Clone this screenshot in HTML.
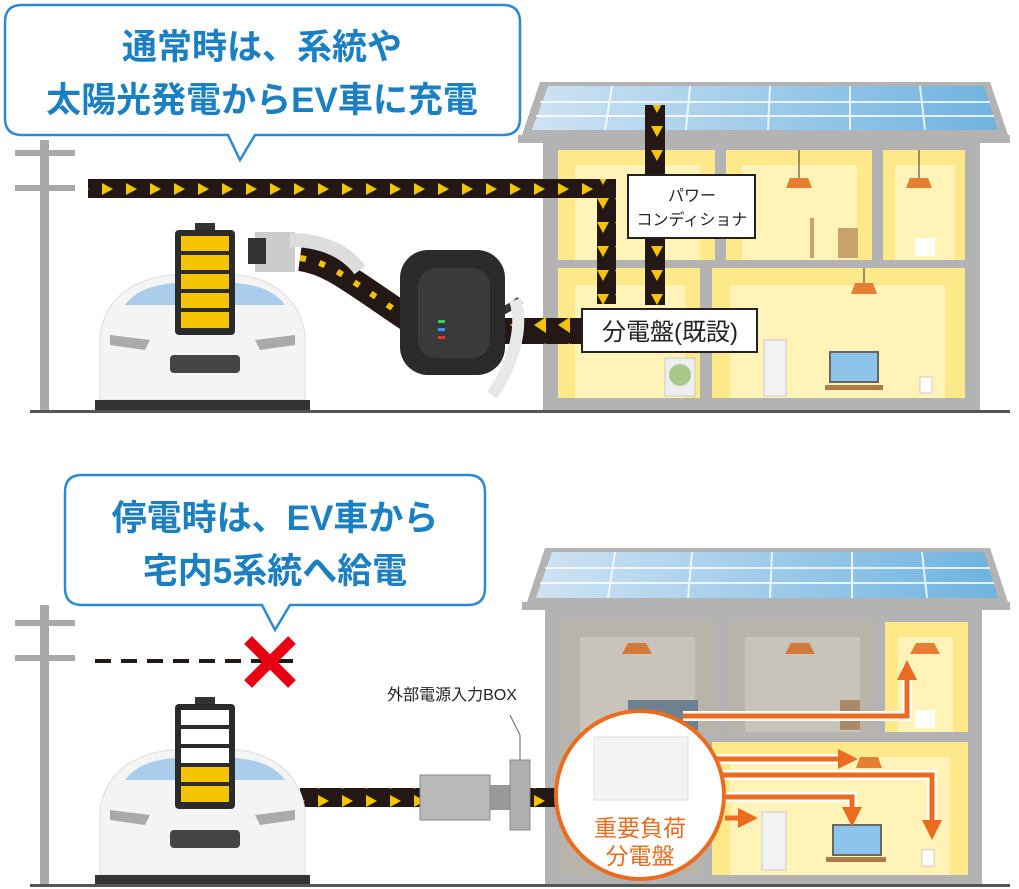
<!DOCTYPE html>
<html><head><meta charset="utf-8"><style>
html,body{margin:0;padding:0;background:#fff;}
svg{display:block;font-family:"Liberation Sans","Noto Sans CJK JP",sans-serif;}
</style></head><body>
<svg width="1019" height="889" viewBox="0 0 1019 889" xmlns="http://www.w3.org/2000/svg">
<defs>
<pattern id="ar" width="24" height="18" patternUnits="userSpaceOnUse"><rect width="24" height="18" fill="#231815"/><polygon points="6,3 17,9 6,15" fill="#f5c400"/></pattern>
<pattern id="ad" width="18" height="24" patternUnits="userSpaceOnUse"><rect width="18" height="24" fill="#231815"/><polygon points="3,6 15,6 9,17" fill="#f5c400"/></pattern>
<pattern id="al" width="24" height="26" patternUnits="userSpaceOnUse"><rect width="24" height="26" fill="#231815"/><polygon points="18,5 6,13 18,21" fill="#f5c400"/></pattern>
<linearGradient id="sol" x1="0" x2="1"><stop offset="0" stop-color="#cfe3f3"/><stop offset="1" stop-color="#6fb3e0"/></linearGradient>
<marker id="oa" markerWidth="4" markerHeight="4" refX="2" refY="2" orient="auto"><polygon points="0,0 4,2 0,4" fill="#ec6c1f"/></marker>
</defs>

<!-- ===== TOP ===== -->
<!-- pole -->
<rect x="40" y="140" width="9" height="272" fill="#a9a9a9"/>
<rect x="15" y="150" width="60" height="6" fill="#a9a9a9"/>
<rect x="15" y="185" width="60" height="6" fill="#a9a9a9"/>
<!-- house -->
<polygon points="540,82 990,82 1008,135 522,135" fill="#b3b3b3"/>
<polygon points="548,86 984,86 998,130 532,130" fill="url(#sol)"/>
<g stroke="#fff" stroke-width="2" opacity="0.8"><line x1="540" y1="102" x2="990" y2="102"/><line x1="536" y1="116" x2="994" y2="116"/><line x1="612" y1="86" x2="605" y2="130"/><line x1="690" y1="86" x2="686" y2="130"/><line x1="770" y1="86" x2="768" y2="130"/><line x1="850" y1="86" x2="850" y2="130"/><line x1="920" y1="86" x2="925" y2="130"/></g>
<rect x="518" y="135" width="492" height="8" fill="#b3b3b3"/>
<rect x="543" y="143" width="437" height="269" fill="#b3b3b3"/>
<rect x="558" y="150" width="157" height="110" fill="#fde989"/>
<rect x="726" y="150" width="146" height="110" fill="#fde989"/>
<rect x="883" y="150" width="82" height="110" fill="#fde989"/>
<rect x="558" y="268" width="142" height="130" fill="#fde989"/>
<rect x="712" y="268" width="253" height="130" fill="#fde989"/>
<g fill="#fff3b8"><rect x="575" y="165" width="125" height="95"/><rect x="742" y="165" width="115" height="95"/><rect x="895" y="165" width="60" height="95"/><rect x="575" y="285" width="110" height="113"/><rect x="730" y="285" width="215" height="113"/></g>
<g fill="#e67e33"><polygon points="790,178 808,178 812,188 786,188"/><polygon points="910,178 928,178 932,188 906,188"/><polygon points="855,283 873,283 877,294 851,294"/></g>
<g stroke="#333" stroke-width="1"><line x1="799" y1="150" x2="799" y2="178"/><line x1="919" y1="150" x2="919" y2="178"/><line x1="864" y1="268" x2="864" y2="283"/></g>
<rect x="838" y="228" width="20" height="30" fill="#c9a36c"/><rect x="810" y="218" width="4" height="40" fill="#c9a36c"/>
<rect x="915" y="238" width="20" height="18" fill="#fff"/>
<rect x="665" y="358" width="30" height="38" fill="#eee" stroke="#ccc"/><circle cx="680" cy="375" r="11" fill="#a9c98a"/>
<rect x="764" y="340" width="22" height="56" fill="#f2f2f2" stroke="#ccc"/>
<rect x="830" y="352" width="48" height="30" fill="#8cc4ea" stroke="#666" stroke-width="2"/>
<rect x="825" y="385" width="58" height="5" fill="#b07a45"/>
<rect x="920" y="377" width="12" height="16" fill="#fff" stroke="#ccc"/>
<!-- arrows -->
<rect x="88" y="179" width="527" height="19" fill="url(#ar)"/>
<rect x="597" y="179" width="19" height="125" fill="url(#ad)" />
<rect x="645" y="105" width="20" height="200" fill="url(#ad)"/>
<rect x="505" y="318" width="80" height="26" fill="url(#al)"/>
<!-- boxes -->
<rect x="628" y="175" width="127" height="63" fill="#fff" stroke="#222" stroke-width="2"/>
<text x="692" y="201" font-size="16" text-anchor="middle" fill="#222">パワー</text>
<text x="692" y="225" font-size="16" text-anchor="middle" fill="#222">コンディショナ</text>
<rect x="582" y="309" width="175" height="43" fill="#fff" stroke="#222" stroke-width="2"/>
<text x="670" y="340" font-size="24" text-anchor="middle" fill="#222">分電盤(既設)</text>
<!-- cable -->
<path d="M300,258 C330,262 350,280 410,320" stroke="#231815" stroke-width="26" fill="none"/>
<path d="M300,258 C330,262 350,280 410,320" stroke="#f5c400" stroke-width="6" stroke-dasharray="6 14" fill="none"/>
<path d="M255,232 h40 v40 h-40z" fill="#ccc"/><rect x="248" y="238" width="18" height="26" fill="#333"/>
<path d="M290,240 C320,240 345,250 360,270" stroke="#ddd" stroke-width="14" fill="none"/>
<!-- charger -->
<path d="M430,370 C420,330 500,320 520,300" stroke="#333" stroke-width="8" fill="none"/>
<rect x="400" y="250" width="105" height="125" rx="28" fill="#2b2b2b"/>
<rect x="418" y="268" width="72" height="90" rx="18" fill="#3a3a3a"/>
<rect x="438" y="320" width="7" height="3" fill="#3c6"/><rect x="438" y="328" width="7" height="3" fill="#39f"/><rect x="438" y="336" width="7" height="3" fill="#e33"/>
<path d="M515,300 C525,330 510,370 492,395" stroke="#e8e8e8" stroke-width="12" fill="none"/>
<!-- car -->
<path d="M100,335 C105,300 130,280 170,275 L240,275 C275,280 300,300 305,335 L305,400 L100,400 Z" fill="#f4f4f4" stroke="#ddd"/>
<path d="M125,305 C140,285 165,282 205,282 C245,282 270,285 285,305 Z" fill="#a9cdea"/>
<rect x="95" y="400" width="215" height="10" fill="#333"/>
<path d="M110,335 L150,340 L145,350 L110,345Z M295,335 L255,340 L260,350 L295,345Z" fill="#aaa"/>
<rect x="170" y="355" width="70" height="18" rx="4" fill="#444"/>
<!-- battery -->
<rect x="195" y="223" width="20" height="8" fill="#333"/>
<rect x="175" y="230" width="60" height="105" rx="4" fill="#2b2b2b"/>
<g fill="#f5c400"><rect x="181" y="236" width="48" height="15"/><rect x="181" y="255" width="48" height="15"/><rect x="181" y="274" width="48" height="15"/><rect x="181" y="293" width="48" height="15"/><rect x="181" y="312" width="48" height="16"/></g>
<rect x="30" y="410" width="980" height="3" fill="#555"/>
<!-- bubble top -->
<path d="M22,5 H503 Q520,5 520,22 V118 Q520,135 503,135 H255 L240,160 L228,135 H22 Q5,135 5,118 V22 Q5,5 22,5Z" fill="#fff" stroke="#2b8ad0" stroke-width="2.5"/>
<text x="262" y="59" font-size="35" font-weight="bold" text-anchor="middle" fill="#1b7fc4">通常時は、系統や</text>
<text x="262" y="112" font-size="35" font-weight="bold" text-anchor="middle" fill="#1b7fc4">太陽光発電からEV車に充電</text>

<!-- ===== BOTTOM ===== -->
<rect x="40" y="605" width="9" height="280" fill="#a9a9a9"/>
<rect x="15" y="620" width="60" height="6" fill="#a9a9a9"/>
<rect x="15" y="655" width="60" height="6" fill="#a9a9a9"/>
<line x1="95" y1="661" x2="300" y2="661" stroke="#231815" stroke-width="4" stroke-dasharray="16 10"/>
<g stroke="#e60012" stroke-width="11"><line x1="248" y1="640" x2="292" y2="684"/><line x1="292" y1="640" x2="248" y2="684"/></g>
<!-- house 2 -->
<polygon points="545,548 990,548 1008,602 527,602" fill="#b3b3b3"/>
<polygon points="552,552 984,552 998,598 536,598" fill="url(#sol)"/>
<g stroke="#fff" stroke-width="2" opacity="0.8"><line x1="545" y1="568" x2="990" y2="568"/><line x1="540" y1="583" x2="994" y2="583"/><line x1="615" y1="552" x2="608" y2="598"/><line x1="692" y1="552" x2="688" y2="598"/><line x1="772" y1="552" x2="770" y2="598"/><line x1="852" y1="552" x2="852" y2="598"/><line x1="922" y1="552" x2="927" y2="598"/></g>
<rect x="522" y="602" width="488" height="8" fill="#b3b3b3"/>
<rect x="545" y="610" width="437" height="275" fill="#b3b3b3"/>
<rect x="560" y="622" width="156" height="110" fill="#b9b4aa"/>
<rect x="727" y="622" width="148" height="110" fill="#b9b4aa"/>
<rect x="885" y="622" width="83" height="110" fill="#fde989"/>
<rect x="560" y="742" width="140" height="133" fill="#b9b4aa"/>
<rect x="712" y="742" width="256" height="133" fill="#fde989"/>
<g fill="#c8c4bb"><rect x="580" y="637" width="115" height="95"/><rect x="745" y="637" width="115" height="95"/></g>
<g fill="#fff3b8"><rect x="898" y="637" width="55" height="95"/><rect x="730" y="757" width="220" height="118"/></g>
<g fill="#d07a3c"><polygon points="628,643 646,643 652,654 622,654"/><polygon points="791,643 809,643 815,654 785,654"/></g>
<g fill="#e67e33"><polygon points="916,643 934,643 940,654 910,654"/><polygon points="860,757 878,757 882,768 856,768"/></g>
<rect x="628" y="700" width="70" height="30" fill="#6d8190"/>
<rect x="840" y="700" width="20" height="30" fill="#a88a66"/>
<rect x="915" y="710" width="20" height="18" fill="#fff"/>
<rect x="762" y="812" width="24" height="58" fill="#f2f2f2" stroke="#ccc"/>
<rect x="833" y="825" width="48" height="30" fill="#8cc4ea" stroke="#666" stroke-width="2"/>
<rect x="826" y="857" width="60" height="5" fill="#b07a45"/>
<rect x="922" y="850" width="12" height="16" fill="#fff" stroke="#ccc"/>
<!-- orange arrows -->
<g stroke="#fff" stroke-width="10" fill="none"><path d="M683,716 H907 V665"/><path d="M715,759 H845"/><path d="M715,775 H932 V830"/><path d="M715,797 H852 V815"/></g>
<g stroke="#ec6c1f" stroke-width="5" fill="none"><path d="M683,716 H907 V670" marker-end="url(#oa)"/><path d="M715,759 H848" marker-end="url(#oa)"/><path d="M715,775 H932 V830" marker-end="url(#oa)"/><path d="M715,797 H852 V817" marker-end="url(#oa)"/><path d="M725,818 H748" marker-end="url(#oa)"/></g>
<!-- arrow to box -->
<rect x="300" y="788" width="130" height="19" fill="url(#ar)"/>
<rect x="530" y="788" width="30" height="19" fill="url(#ar)"/>
<path d="M420,775 h70 v45 h-70z" fill="#b9b9b9" stroke="#888"/>
<rect x="490" y="785" width="20" height="25" fill="#999"/>
<rect x="510" y="760" width="20" height="70" fill="#b0b0b0" stroke="#888"/>
<line x1="520" y1="760" x2="520" y2="735" stroke="#666"/>
<line x1="520" y1="735" x2="510" y2="715" stroke="#666"/>
<text x="452" y="700" font-size="16" text-anchor="middle" fill="#222">外部電源入力BOX</text>
<!-- circle -->
<circle cx="640" cy="795" r="84" fill="#fff" stroke="#ec6c1f" stroke-width="4"/>
<rect x="594" y="737" width="94" height="63" fill="#f2f3f5" stroke="#ddd"/>
<text x="640" y="836" font-size="23" text-anchor="middle" fill="#ec6c1f">重要負荷</text>
<text x="640" y="864" font-size="23" text-anchor="middle" fill="#ec6c1f">分電盤</text>
<!-- car 2 -->
<path d="M100,810 C105,775 130,755 170,750 L240,750 C275,755 300,775 305,810 L305,875 L100,875 Z" fill="#f4f4f4" stroke="#ddd"/>
<path d="M125,780 C140,760 165,757 205,757 C245,757 270,760 285,780 Z" fill="#a9cdea"/>
<rect x="95" y="875" width="215" height="10" fill="#333"/>
<path d="M110,810 L150,815 L145,825 L110,820Z M295,810 L255,815 L260,825 L295,820Z" fill="#aaa"/>
<rect x="170" y="830" width="70" height="18" rx="4" fill="#444"/>
<rect x="195" y="697" width="20" height="8" fill="#333"/>
<rect x="175" y="704" width="60" height="105" rx="4" fill="#2b2b2b"/>
<g fill="#fff"><rect x="181" y="710" width="48" height="15"/><rect x="181" y="729" width="48" height="15"/><rect x="181" y="748" width="48" height="15"/></g>
<g fill="#f5c400"><rect x="181" y="767" width="48" height="15"/><rect x="181" y="786" width="48" height="16"/></g>
<rect x="30" y="884" width="980" height="3" fill="#555"/>
<!-- bubble bottom -->
<path d="M82,475 H468 Q485,475 485,492 V588 Q485,605 468,605 H290 L275,630 L262,605 H82 Q65,605 65,588 V492 Q65,475 82,475Z" fill="#fff" stroke="#2b8ad0" stroke-width="2.5"/>
<text x="275" y="530" font-size="35" font-weight="bold" text-anchor="middle" fill="#1b7fc4">停電時は、EV車から</text>
<text x="275" y="583" font-size="35" font-weight="bold" text-anchor="middle" fill="#1b7fc4">宅内5系統へ給電</text>
</svg>
</body></html>
